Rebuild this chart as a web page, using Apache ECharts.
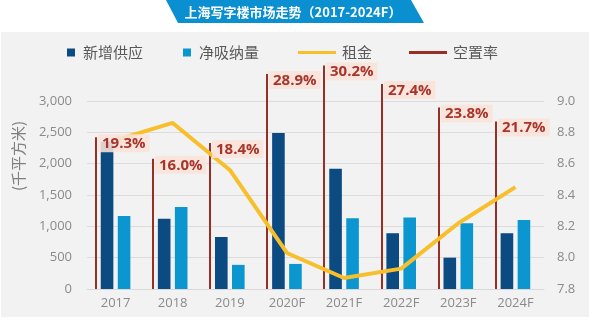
<!DOCTYPE html>
<html>
<head>
<meta charset="utf-8">
<script src="https://cdn.jsdelivr.net/npm/echarts@6/dist/echarts.min.js"></script>
<style>
  html, body { margin: 0; padding: 0; background: #ffffff; }
  #chart { width: 593px; height: 325px; }
</style>
</head>
<body>
<div id="chart"></div>
<script>
// Shanghai office market: supply, net absorption, rent and vacancy, 2017-2024F
const years = ['2017', '2018', '2019', '2020F', '2021F', '2022F', '2023F', '2024F'];
const newSupply = [2350, 1120, 830, 2490, 1920, 890, 500, 890];      // 千平方米
const netAbsorption = [1165, 1310, 385, 400, 1130, 1140, 1050, 1100]; // 千平方米
const rent = [8.75, 8.86, 8.56, 8.03, 7.87, 7.93, 8.22, 8.45];
const vacancy = [19.3, 16.0, 18.4, 28.9, 30.2, 27.4, 23.8, 21.7];     // %
const leftTicks = { min: 0, max: 3000, interval: 500 };
const rightTicks = { min: 7.8, max: 9.0, interval: 0.2 };
const vacancyScale = { min: -3.8, max: 24.8 };

const FONT = '"Open Sans", "Noto Sans CJK SC", sans-serif';
const CJK = '"Noto Sans CJK SC", "Open Sans", sans-serif';
const C_DARK = '#0C4A82';
const C_LIGHT = '#0C96D0';
const C_RENT = '#F6BF2B';
const C_VAC = '#982F25';
const C_LABEL = '#A8352B';
const C_AXIS = '#8A8A8A';

const chart = echarts.init(document.getElementById('chart'), null, { renderer: 'canvas' });

// x position of a vacancy stem: left part of its category band
function vacancyX(api, i, v) {
  const top = api.coord([i, v]);
  const band = api.size([1, 0])[0];
  return { x: Math.round(top[0] - band * 0.343), top: top[1] };
}

function legendAt(name, left, icon) {
  const isLine = icon === 'line';
  return {
    data: [name],
    left: left,
    top: 45,
    padding: 0,
    icon: 'rect',
    itemWidth: isLine ? 38 : 8,
    itemHeight: isLine ? 3 : 8,
    selectedMode: false,
    textStyle: { fontFamily: CJK, fontSize: 15, color: '#595959', padding: [0, 0, 0, isLine ? 1 : 3] }
  };
}

const option = {
  animation: false,
  backgroundColor: '#ffffff',
  graphic: [
    { type: 'rect', z: -10, silent: true, shape: { x: 1, y: 32, width: 588, height: 285 }, style: { fill: '#F2F2F2' } },
    { type: 'polygon', z: 10, shape: { points: [[166, 0], [411, 0], [424, 23], [178, 23]] }, style: { fill: '#0A8FD0' } },
    { type: 'text', z: 11, x: 293, y: 12, style: { text: '上海写字楼市场走势（2017-2024F）', fill: '#ffffff', font: 'bold 13px ' + CJK, align: 'center', verticalAlign: 'middle' } },
    { type: 'text', z: 11, x: 18, y: 156, rotation: Math.PI / 2, style: { text: '(千平方米)', fill: '#7F7F7F', font: '15px ' + CJK, align: 'center', verticalAlign: 'middle' } }
  ],
  legend: [
    legendAt('新增供应', 67, 'rect'),
    legendAt('净吸纳量', 183, 'rect'),
    legendAt('租金', 298, 'line'),
    legendAt('空置率', 409, 'line')
  ],
  grid: { left: 87, right: 49, top: 101, bottom: 36 },
  xAxis: {
    type: 'category',
    data: years,
    axisLine: { lineStyle: { color: '#D9D9D9' } },
    axisTick: { show: false },
    axisLabel: { color: C_AXIS, fontFamily: FONT, fontSize: 13, margin: 8 }
  },
  yAxis: [
    {
      type: 'value', min: leftTicks.min, max: leftTicks.max, interval: leftTicks.interval,
      axisLine: { show: false }, axisTick: { show: false },
      axisLabel: { color: C_AXIS, fontFamily: FONT, fontSize: 13, margin: 15,
        formatter: v => v.toLocaleString('en-US') },
      splitLine: { lineStyle: { color: '#DCDCDC', width: 1 } }
    },
    {
      type: 'value', min: rightTicks.min, max: rightTicks.max, interval: rightTicks.interval,
      position: 'right',
      axisLine: { show: false }, axisTick: { show: false },
      axisLabel: { color: C_AXIS, fontFamily: FONT, fontSize: 13, margin: 13,
        formatter: v => v.toFixed(1) },
      splitLine: { show: false }
    },
    {
      type: 'value', min: vacancyScale.min, max: vacancyScale.max, show: false,
      splitLine: { show: false }
    }
  ],
  series: [
    {
      name: '新增供应', type: 'bar', data: newSupply, barWidth: 12.6, barGap: '35%',
      itemStyle: { color: C_DARK }, z: 2
    },
    {
      name: '净吸纳量', type: 'bar', data: netAbsorption, barWidth: 12.6,
      itemStyle: { color: C_LIGHT }, z: 2
    },
    {
      name: '空置率', type: 'custom', yAxisIndex: 2, z: 3,
      itemStyle: { color: C_VAC },
      encode: { x: 0, y: 1 },
      data: vacancy.map((v, i) => [i, v]),
      clip: false,
      renderItem: function (params, api) {
        const i = api.value(0), v = api.value(1);
        const p = vacancyX(api, i, v);
        const base = api.coord([i, vacancyScale.min])[1];
        return {
          type: 'line',
          shape: { x1: p.x, y1: p.top, x2: p.x, y2: base },
          style: { stroke: C_VAC, lineWidth: 2 }
        };
      }
    },
    {
      name: '租金', type: 'line', yAxisIndex: 1, data: rent, symbol: 'none',
      itemStyle: { color: C_RENT },
      lineStyle: { color: C_RENT, width: 4 }, z: 4
    },
    {
      name: 'vacancy-labels', type: 'custom', yAxisIndex: 2, z: 6,
      encode: { x: 0, y: 1 },
      data: vacancy.map((v, i) => [i, v]),
      clip: false,
      renderItem: function (params, api) {
        const i = api.value(0), v = api.value(1);
        const p = vacancyX(api, i, v);
        return {
          type: 'text',
          x: p.x + 2,
          y: p.top - 3,
          style: {
            text: v.toFixed(1) + '%',
            fill: C_LABEL,
            font: 'bold 15px ' + FONT,
            backgroundColor: 'rgba(250,227,218,0.88)',
            padding: [2, 4, 1, 4],
            verticalAlign: 'top'
          }
        };
      }
    }
  ]
};

chart.setOption(option);
</script>
</body>
</html>
